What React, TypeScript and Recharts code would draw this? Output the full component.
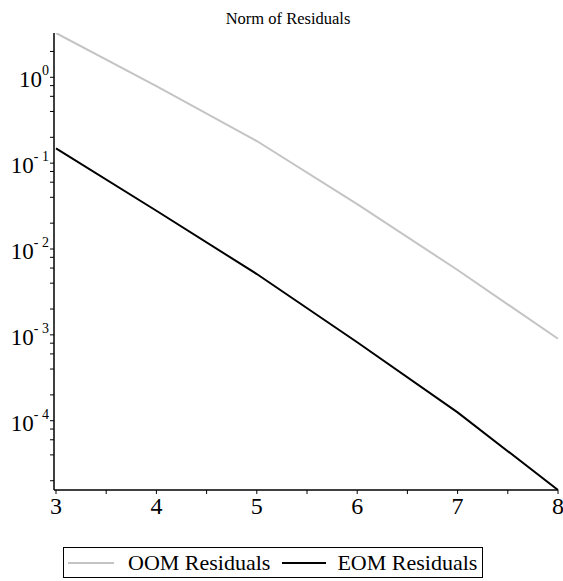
import React from 'react';
import { LineChart, Line, XAxis, YAxis } from 'recharts';

const ITERATIONS = [3, 4, 5, 6, 7, 8];
const OOM_RESIDUALS = [3.28, 0.787, 0.181, 0.0334, 0.00569, 0.0009];
const EOM_RESIDUALS = [0.149, 0.0279, 0.00511, 0.00082, 0.000125, 0.0000156];

const X_TICKS = [3, 3.5, 4, 4.5, 5, 5.5, 6, 6.5, 7, 7.5, 8];
const Y_DECADES = [1e-4, 1e-3, 1e-2, 1e-1, 1];
const Y_MINOR = [
  2, 0.8, 0.6, 0.4, 0.2, 0.08, 0.06, 0.04, 0.02, 0.008, 0.006, 0.004, 0.002,
  0.0008, 0.0006, 0.0004, 0.0002, 0.00008, 0.00006, 0.00004, 0.00002,
];

const SERIES = [
  { key: 'oom', name: 'OOM Residuals', color: '#c4c4c4' },
  { key: 'eom', name: 'EOM Residuals', color: '#000000' },
];

const FONT = "'Liberation Serif', 'DejaVu Serif', serif";

const chartData = ITERATIONS.map((x, i) => ({
  x,
  oom: OOM_RESIDUALS[i],
  eom: EOM_RESIDUALS[i],
}));

const yTicks = [...Y_DECADES, ...Y_MINOR].sort((a, b) => a - b);

function YTick(props: any) {
  const { x, y, payload } = props;
  const v = payload.value;
  const exp = Math.round(Math.log10(v));
  if (Math.abs(Math.log10(v) - exp) > 1e-6) return null;
  const expLabel = exp === 0 ? '0' : `- ${Math.abs(exp)}`;
  return (
    <text x={x + 1} y={y + 10} textAnchor="end" style={{ fontFamily: FONT }} fill="#000">
      <tspan fontSize={23}>10</tspan>
      <tspan fontSize={14} dy={-12}>{expLabel}</tspan>
    </text>
  );
}

function XTick(props: any) {
  const { x, y, payload } = props;
  if (!Number.isInteger(payload.value)) return null;
  return (
    <text x={x} y={y + 18} textAnchor="middle" style={{ fontFamily: FONT }} fontSize={24} fill="#000">
      {payload.value}
    </text>
  );
}

export default function App() {
  return (
    <div style={{ position: 'absolute', left: 0, top: 0, width: 563, height: 581, background: '#fff', fontFamily: FONT }}>
      {/* Title */}
      <div style={{ position: 'absolute', left: 0, top: 9, width: 576, textAlign: 'center', fontSize: 16.5 }}>
        Norm of Residuals
      </div>

      <LineChart width={563} height={520} data={chartData} margin={{ top: 33, right: 5, left: 0, bottom: 0 }}>
        <XAxis
          dataKey="x"
          type="number"
          domain={[3, 8]}
          ticks={X_TICKS}
          interval={0}
          padding={{ left: 2, right: 0 }}
          height={30}
          axisLine={{ stroke: '#000', strokeWidth: 1.5 }}
          tickLine={{ stroke: '#000' }}
          tickSize={4}
          tick={<XTick />}
        />
        <YAxis
          type="number"
          scale="log"
          domain={[0.0000156, 3.28]}
          allowDataOverflow
          ticks={yTicks}
          interval={0}
          width={54}
          axisLine={{ stroke: '#000', strokeWidth: 1.5 }}
          tickLine={{ stroke: '#000' }}
          tickSize={4}
          tick={<YTick />}
        />
        {SERIES.map((s) => (
          <Line
            key={s.key}
            dataKey={s.key}
            name={s.name}
            stroke={s.color}
            strokeWidth={2}
            dot={false}
            isAnimationActive={false}
          />
        ))}
      </LineChart>

      {/* Legend */}
      <div
        style={{
          position: 'absolute',
          left: 63,
          top: 547,
          width: 420,
          height: 31,
          border: '1px solid #000',
          display: 'flex',
          alignItems: 'center',
          fontSize: 22,
          boxSizing: 'border-box',
          whiteSpace: 'nowrap',
        }}
      >
        {SERIES.map((s, i) => (
          <div key={s.key} style={{ display: 'flex', alignItems: 'center', marginLeft: i === 0 ? 4 : 12 }}>
            <span style={{ display: 'inline-block', width: i === 0 ? 46 : 44, height: 2, background: s.color, marginRight: i === 0 ? 14 : 11 }} />
            <span>{s.name}</span>
          </div>
        ))}
      </div>
    </div>
  );
}
